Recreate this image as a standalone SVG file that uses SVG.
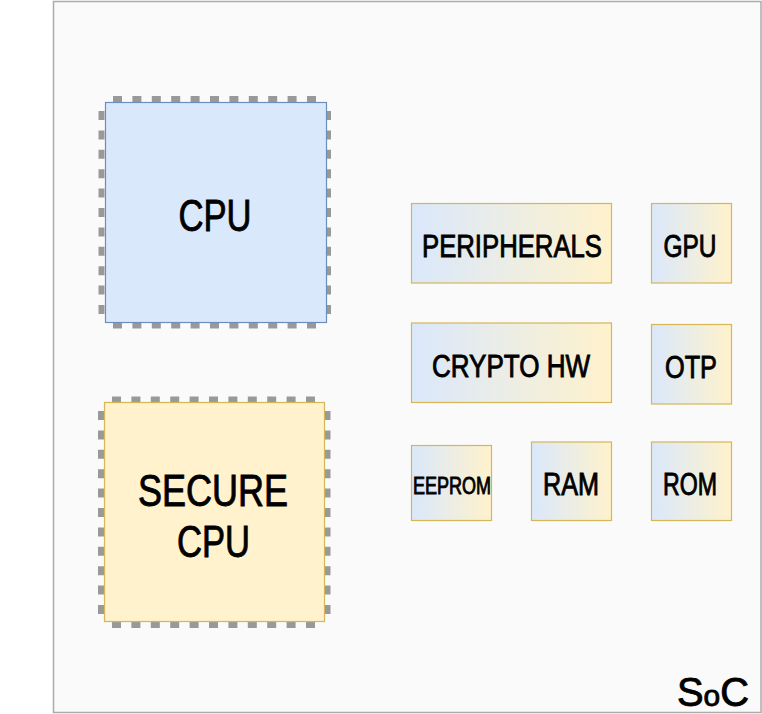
<svg xmlns="http://www.w3.org/2000/svg" width="762" height="714" viewBox="0 0 762 714">
<style>
text{font-family:"Liberation Sans","DejaVu Sans",sans-serif;fill:#000;stroke:#000;stroke-width:0.9;text-anchor:middle}
.pins line{fill:none;stroke:#999;stroke-width:6;stroke-dasharray:9 10.4}
.blk{stroke:#d6b656;stroke-width:1.2;fill:url(#g)}
</style>
<defs>
<linearGradient id="g" x1="0" y1="0" x2="1" y2="0">
<stop offset="0" stop-color="#dae8fc"/>
<stop offset="1" stop-color="#fff2cc"/>
</linearGradient>
</defs>
<g id="soc">
<rect x="53.5" y="1.5" width="707.5" height="711" fill="#fafafa" stroke="#aaa" stroke-width="1.5"/>
<text x="713" y="706" font-size="40" textLength="72" lengthAdjust="spacingAndGlyphs">S<tspan font-size="30">o</tspan>C</text>
</g>
<g id="cpu">
<g class="pins">
<line x1="113" y1="99" x2="318" y2="99"/>
<line x1="113" y1="325.5" x2="318" y2="325.5"/>
<line x1="101.5" y1="111" x2="101.5" y2="316"/>
<line x1="328" y1="111" x2="328" y2="316"/>
</g>
<rect x="105.5" y="102.5" width="221" height="220" fill="#dae8fc" stroke="#6c8ebf" stroke-width="1.2"/>
<text x="215" y="231" font-size="44" textLength="73" lengthAdjust="spacingAndGlyphs">CPU</text>
</g>
<g id="secure-cpu">
<g class="pins">
<line x1="112" y1="399.5" x2="317" y2="399.5"/>
<line x1="112" y1="625" x2="317" y2="625"/>
<line x1="101" y1="411" x2="101" y2="616"/>
<line x1="327.5" y1="411" x2="327.5" y2="616"/>
</g>
<rect x="104.5" y="402.5" width="220" height="219" fill="#fff2cc" stroke="#d6b656" stroke-width="1.2"/>
<text x="213" y="506" font-size="44" textLength="150" lengthAdjust="spacingAndGlyphs">SECURE</text>
<text x="213.5" y="557" font-size="44" textLength="73" lengthAdjust="spacingAndGlyphs">CPU</text>
</g>
<g id="peripherals">
<rect class="blk" x="411.5" y="203.5" width="200" height="79.5"/>
<text x="512" y="257" font-size="31" textLength="180" lengthAdjust="spacingAndGlyphs">PERIPHERALS</text>
</g>
<g id="gpu">
<rect class="blk" x="651.5" y="203.5" width="80" height="79.5"/>
<text x="690" y="257" font-size="31" textLength="53" lengthAdjust="spacingAndGlyphs">GPU</text>
</g>
<g id="crypto-hw">
<rect class="blk" x="411.5" y="323" width="200" height="79.5"/>
<text x="511" y="377" font-size="31" textLength="158" lengthAdjust="spacingAndGlyphs">CRYPTO HW</text>
</g>
<g id="otp">
<rect class="blk" x="651.5" y="324.5" width="80" height="79.5"/>
<text x="691" y="378" font-size="31" textLength="52" lengthAdjust="spacingAndGlyphs">OTP</text>
</g>
<g id="eeprom">
<rect class="blk" x="411.5" y="445.5" width="80" height="75"/>
<text x="452" y="494" font-size="24" textLength="78" lengthAdjust="spacingAndGlyphs">EEPROM</text>
</g>
<g id="ram">
<rect class="blk" x="531.5" y="442" width="80" height="78.5"/>
<text x="571" y="495" font-size="31" textLength="56" lengthAdjust="spacingAndGlyphs">RAM</text>
</g>
<g id="rom">
<rect class="blk" x="651.5" y="442" width="80" height="78.5"/>
<text x="690" y="495" font-size="31" textLength="54" lengthAdjust="spacingAndGlyphs">ROM</text>
</g>
<g id="connectors"/>
</svg>
